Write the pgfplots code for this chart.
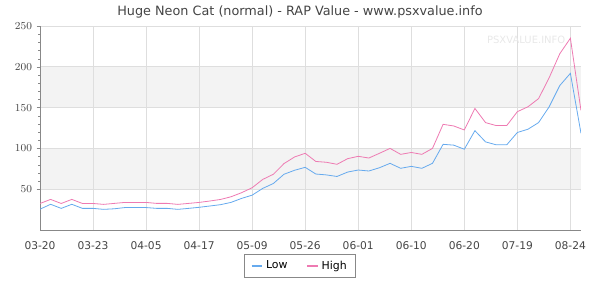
\documentclass[border=0pt]{standalone}
\usepackage{fontspec}
\setmainfont{DejaVu Sans}
\usepackage{pgfplots}
\usepackage{pgfplotstable}
\pgfplotsset{compat=1.18}
\definecolor{lowc}{RGB}{102,170,238}
\definecolor{highc}{RGB}{238,122,178}
\definecolor{bandc}{RGB}{243,243,243}
\definecolor{gridc}{RGB}{222,222,222}
\definecolor{txtc}{RGB}{68,68,68}
\definecolor{axc}{RGB}{136,136,136}
\definecolor{wmc}{RGB}{232,232,232}

\pgfplotstableread{
i low high
0 25.5 32.5
1 31.5 37.5
2 26.5 32.5
3 31.5 37.5
4 26.5 32.5
5 26.5 32.5
6 25.3 31.4
7 26 32.6
8 27.5 33.8
9 27.5 33.8
10 27.5 33.8
11 26.5 32.6
12 26.5 32.6
13 25.3 31.4
14 26.5 32.6
15 27.8 33.8
16 29.4 35.5
17 31 37.4
18 33.8 40.7
19 38.7 45.7
20 42.7 51.8
21 51 62
22 57 68.3
23 68.3 81.4
24 73.2 89.5
25 76.8 94
26 68.6 84
27 67.5 83
28 65.6 80.5
29 71 87.4
30 73.5 90.3
31 72.3 88.2
32 76.3 94
33 81.7 100
34 75.6 92.7
35 78 95
36 75.6 92.7
37 81.7 100
38 105 129.5
39 104 127.5
40 99 122.6
41 121.7 149
42 108 131.6
43 104.4 128
44 104.4 128
45 119.5 145
46 123.5 151
47 131.6 161
48 151 186.6
49 177 216
50 192 235
51 118.5 146.5
}\rap

\begin{document}
\begin{tikzpicture}
\path (0pt,0pt) rectangle (450pt,225pt);
\node[font=\fontsize{9.6}{11}\selectfont, text=txtc] at (225pt,216pt) {Huge Neon Cat (normal) - RAP Value - www.psxvalue.info};
\begin{axis}[
  set layers,
  at={(30pt,52.5pt)}, anchor=south west,
  scale only axis, width=405.75pt, height=153pt,
  xmin=0, xmax=51, ymin=0, ymax=250,
  axis x line*=bottom, axis y line*=left,
  axis line style={axc, -},
  xtick={0,5,...,50},
  xticklabels={03-20,03-23,04-05,04-17,05-09,05-26,06-01,06-10,06-20,07-19,08-24},
  ytick={50,100,...,250},
  minor y tick num=4,
  tick align=outside,
  x tick style={draw=none},
  y tick style={axc},
  major tick length=2.5pt,
  minor tick length=1.5pt,
  grid=major,
  major grid style={gridc, line width=0.6pt},
  ticklabel style={font=\fontsize{8}{9}\selectfont, text=txtc},
  xticklabel style={yshift=-3pt},
  legend style={at={(0.4806,-0.12)}, anchor=north, legend columns=2, draw=axc, font=\fontsize{8.2}{9.5}\selectfont, text=black, inner xsep=4.5pt, inner ysep=2.5pt, /tikz/every even column/.append style={column sep=12pt}},
  legend image code/.code={\draw[#1, line width=1.6pt] (0pt,0pt) -- (8pt,0pt);},
]
\addplot[fill=bandc, draw=none, on layer=axis background, forget plot] coordinates {(0,50) (51,50) (51,100) (0,100)} \closedcycle;
\addplot[fill=bandc, draw=none, on layer=axis background, forget plot] coordinates {(0,150) (51,150) (51,200) (0,200)} \closedcycle;
\addplot[lowc, line width=0.6pt] table[x=i, y=low] {\rap};
\addlegendentry{Low}
\addplot[highc, line width=0.6pt] table[x=i, y=high] {\rap};
\addlegendentry{High}
\end{axis}
\node[anchor=east, font=\fontsize{7.5}{9}\selectfont, text=wmc] at (427.5pt,195pt) {PSXVALUE.INFO};
\end{tikzpicture}
\end{document}
